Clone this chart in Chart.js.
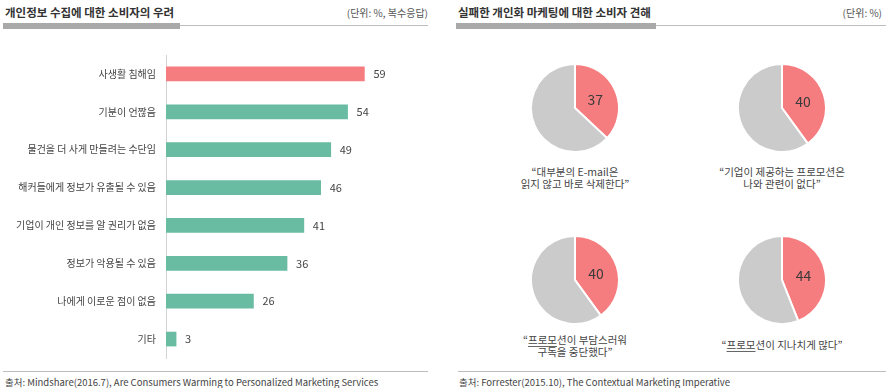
<!DOCTYPE html>
<html>
<head>
<meta charset="utf-8">
<script src="https://cdn.jsdelivr.net/npm/chart.js@4.4.1/dist/chart.umd.min.js"></script>
<style>
  body { margin: 0; width: 886px; height: 388px; background: #fff; position: relative; overflow: hidden;
         font-family: "Noto Sans CJK KR", "Noto Sans", sans-serif; color: #444; }
  .abs { position: absolute; }
  .title { font-size: 11.5px; font-weight: bold; color: #333; line-height: 14px; top: 5px; }
  .unit { font-size: 10px; color: #555; line-height: 14px; top: 6px; text-align: right; }
  .thick { height: 6px; background: #a9a9a9; top: 23px; }
  .thin { height: 1px; background: #bdbdbd; top: 25px; }
  .foot-line { height: 1px; background: #bdbdbd; top: 371px; }
  .foot { font-size: 9.5px; color: #444; line-height: 14px; top: 375px; white-space: nowrap; }
  .cap { font-size: 10.5px; color: #444; line-height: 12px; text-align: center; width: 180px; }
  .cap u { text-decoration-color: #666; text-underline-offset: 2px; }
</style>
</head>
<body>
<div class="abs title" style="left:5px">개인정보 수집에 대한 소비자의 우려</div>
<div class="abs unit" style="left:300px;width:128px">(단위: %, 복수응답)</div>
<div class="abs thick" style="left:3px;width:177px"></div>
<div class="abs thin" style="left:180px;width:248px"></div>

<div class="abs title" style="left:458px">실패한 개인화 마케팅에 대한 소비자 견해</div>
<div class="abs unit" style="left:780px;width:102px">(단위: %)</div>
<div class="abs thick" style="left:456px;width:200px"></div>
<div class="abs thin" style="left:656px;width:230px"></div>

<!-- chart area lands at y 55..358 once the 8px label padding is taken -->
<canvas id="bars" class="abs" width="435" height="319" style="left:0;top:47px"></canvas>
<div id="pies"></div>

<div class="abs foot-line" style="left:3px;width:425px"></div>
<div class="abs foot" style="left:5px">출처: Mindshare(2016.7), Are Consumers Warming to Personalized Marketing Services</div>
<div class="abs foot-line" style="left:458px;width:428px"></div>
<div class="abs foot" style="left:459px">출처: Forrester(2015.10), The Contextual Marketing Imperative</div>

<script>
const concerns = ['사생활 침해임', '기분이 언짢음', '물건을 더 사게 만들려는 수단임', '해커들에게 정보가 유출될 수 있음',
  '기업이 개인 정보를 알 권리가 없음', '정보가 악용될 수 있음', '나에게 이로운 점이 없음', '기타'];
const concernValues = [59, 54, 49, 46, 41, 36, 26, 3];

const pieValues = [37, 40, 40, 44];
const pieCaptions = [
  ['“대부분의 E-mail은', '읽지 않고 바로 삭제한다”'],
  ['“기업이 제공하는 프로모션은', '나와 관련이 없다”'],
  ['“프로모션이 부담스러워', '구독을 중단했다”'],
  ['“프로모션이 지나치게 많다”']
];

const RED = '#f67d7f', TEAL = '#69bca2', GREY = '#cbcbcb';
const FONT = '"Noto Sans CJK KR", "Noto Sans", sans-serif';

const valueLabels = {
  id: 'valueLabels',
  afterDatasetsDraw(chart) {
    const ctx = chart.ctx;
    ctx.save();
    ctx.font = '11px ' + FONT;
    ctx.fillStyle = '#444';
    ctx.textBaseline = 'middle';
    chart.getDatasetMeta(0).data.forEach((bar, i) => {
      ctx.fillText(concernValues[i], bar.x + 9, bar.y);
    });
    ctx.restore();
  }
};

new Chart(document.getElementById('bars'), {
  type: 'bar',
  data: {
    labels: concerns,
    datasets: [{
      data: concernValues,
      backgroundColor: concernValues.map((v, i) => i === 0 ? RED : TEAL),
      barThickness: 14
    }]
  },
  options: {
    indexAxis: 'y',
    responsive: false,
    animation: false,
    events: [],
    layout: { padding: 0 },
    plugins: { legend: { display: false }, tooltip: { enabled: false } },
    scales: {
      x: { display: false, min: 0, max: 80 },
      y: {
        afterFit: s => { s.width = 166; },
        grid: { display: false },
        border: { display: true, color: '#d4d4d4', width: 1 },
        ticks: { color: '#444', padding: 2, font: { family: FONT, size: 10 } }
      }
    }
  },
  plugins: [valueLabels]
});

const pieCenters = [[575, 108], [782, 108], [575, 280], [782, 280]];
const capTops = [166, 166, 334, 339];
const holder = document.getElementById('pies');

pieValues.forEach((v, i) => {
  const [cx, cy] = pieCenters[i];
  const cv = document.createElement('canvas');
  cv.width = 90; cv.height = 90;
  cv.className = 'abs';
  cv.style.left = (cx - 45) + 'px';
  cv.style.top = (cy - 45) + 'px';
  holder.appendChild(cv);

  const cap = document.createElement('div');
  cap.className = 'abs cap';
  cap.style.left = (cx - 90) + 'px';
  cap.style.top = capTops[i] + 'px';
  cap.innerHTML = pieCaptions[i].join('<br>').replace('프로모션이', '<u>프로모</u>션이');
  holder.appendChild(cap);

  new Chart(cv, {
    type: 'pie',
    data: {
      labels: ['예', '기타'],
      datasets: [{ data: [v, 100 - v], backgroundColor: [RED, GREY], borderColor: '#fff', borderWidth: 2 }]
    },
    options: {
      responsive: false,
      animation: false,
      events: [],
      plugins: { legend: { display: false }, tooltip: { enabled: false } }
    },
    plugins: [{
      id: 'pieLabel',
      afterDatasetsDraw(chart) {
        const ctx = chart.ctx;
        const p = chart.getDatasetMeta(0).data[0].tooltipPosition();
        ctx.save();
        ctx.font = '14px ' + FONT;
        ctx.fillStyle = '#3a3a3a';
        ctx.textAlign = 'center';
        ctx.textBaseline = 'middle';
        ctx.fillText(v, p.x, p.y);
        ctx.restore();
      }
    }]
  });
});
</script>
</body>
</html>
